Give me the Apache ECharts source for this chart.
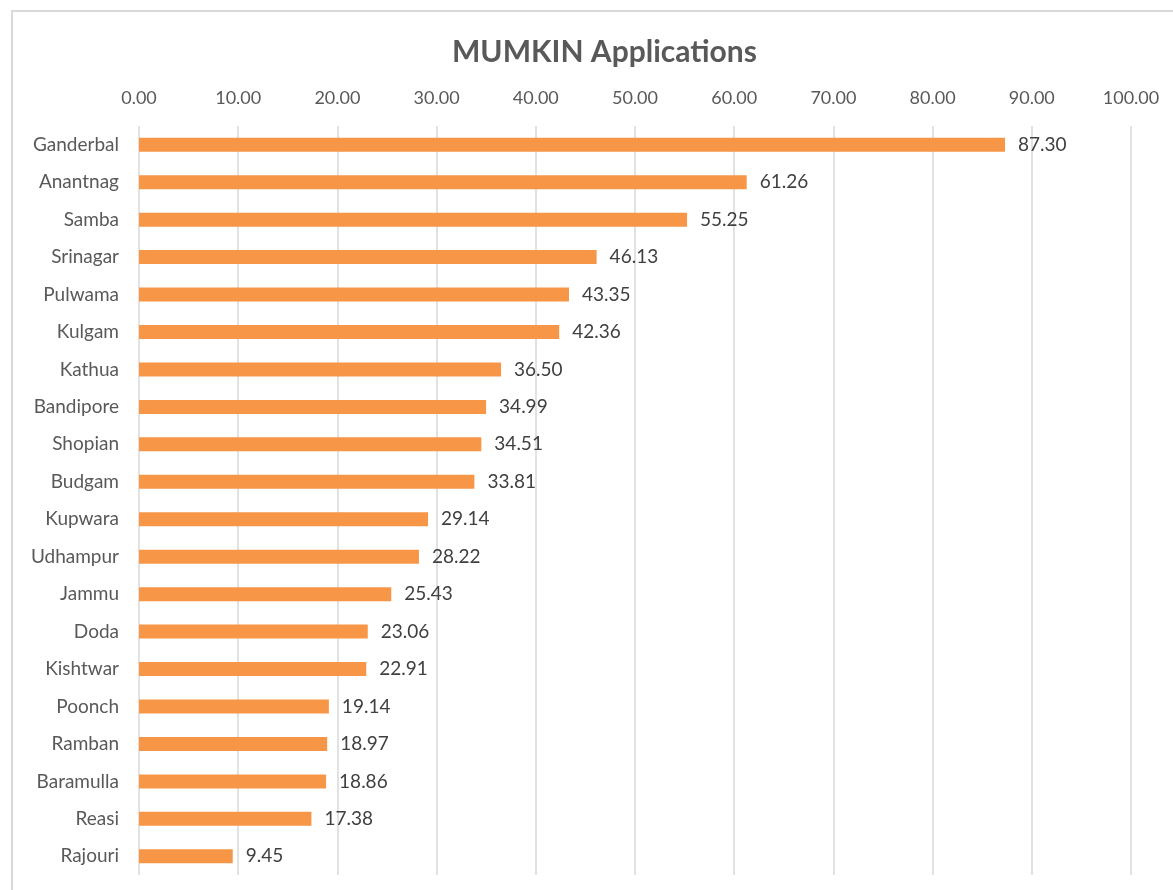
<!DOCTYPE html>
<html>
<head>
<meta charset="utf-8">
<script src="https://cdn.jsdelivr.net/npm/echarts@6/dist/echarts.min.js"></script>
<style>
  html, body { margin: 0; padding: 0; background: #fff; overflow: hidden; }
  #frame { position: absolute; left: 11px; top: 10px; width: 1200px; height: 900px; border: 2px solid #d9d9d9; box-sizing: border-box; }
  #chart { position: absolute; left: 0; top: 0; width: 1173px; height: 890px; }
</style>
</head>
<body>
<div id="frame"></div>
<div id="chart"></div>
<script>
// districts, top to bottom as in the picture
const districts = ['Ganderbal', 'Anantnag', 'Samba', 'Srinagar', 'Pulwama', 'Kulgam', 'Kathua',
  'Bandipore', 'Shopian', 'Budgam', 'Kupwara', 'Udhampur', 'Jammu', 'Doda', 'Kishtwar',
  'Poonch', 'Ramban', 'Baramulla', 'Reasi', 'Rajouri'];
const applications = [87.30, 61.26, 55.25, 46.13, 43.35, 42.36, 36.50, 34.99, 34.51, 33.81,
  29.14, 28.22, 25.43, 23.06, 22.91, 19.14, 18.97, 18.86, 17.38, 9.45];

const chart = echarts.init(document.getElementById('chart'));
const font = 'Lato, "Open Sans", sans-serif';

chart.setOption({
  animation: false,
  title: {
    text: 'MUMKIN Applications',
    left: 447,
    top: 32,
    textStyle: { fontFamily: font, fontSize: 30, fontWeight: 'bold', color: '#595959' }
  },
  grid: { left: 139, right: 42, top: 126, bottom: 15 },
  xAxis: {
    type: 'value',
    position: 'top',
    min: 0,
    max: 100,
    interval: 10,
    axisLine: { show: false },
    axisTick: { show: false },
    axisLabel: {
      margin: 19,
      color: '#595959',
      fontFamily: font,
      fontSize: 18,
      formatter: v => v.toFixed(2)
    },
    splitLine: { lineStyle: { color: '#d9d9d9', width: 1.5 } }
  },
  yAxis: {
    type: 'category',
    inverse: true,
    data: districts,
    axisLine: { show: false },
    axisTick: { show: false },
    axisLabel: { margin: 20, color: '#595959', fontFamily: font, fontSize: 19 }
  },
  series: [{
    type: 'bar',
    data: applications,
    barWidth: 14,
    itemStyle: { color: '#f79646' },
    label: {
      show: true,
      position: 'right',
      distance: 13,
      color: '#404040',
      fontFamily: font,
      fontSize: 19,
      formatter: p => p.value.toFixed(2)
    }
  }]
});
</script>
</body>
</html>
